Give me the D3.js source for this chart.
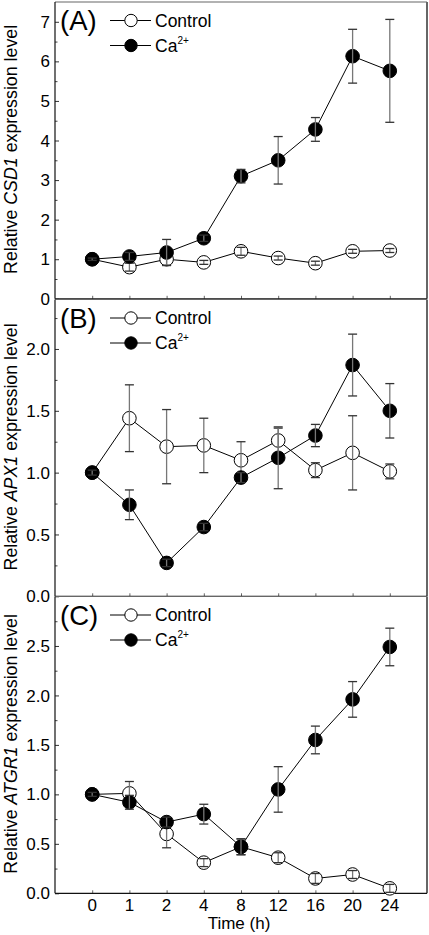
<!DOCTYPE html>
<html>
<head>
<meta charset="utf-8">
<script src="https://cdn.jsdelivr.net/npm/d3@7"></script>
<style>
  html, body { margin: 0; padding: 0; background: #fff; }
  svg { display: block; font-family: "Liberation Sans", Arial, sans-serif; }
</style>
</head>
<body>
<svg id="chart" width="429" height="935"></svg>
<script>
// ---- data ----
const times = ["0", "1", "2", "4", "8", "12", "16", "20", "24"];

const csd1Control    = [1.00, 0.80, 1.00, 0.92, 1.20, 1.03, 0.90, 1.20, 1.22];
const csd1ControlErr = [0.03, 0.10, 0.15, 0.05, 0.10, 0.05, 0.05, 0.05, 0.05];
const csd1Ca         = [1.00, 1.07, 1.17, 1.53, 3.10, 3.50, 4.28, 6.13, 5.76];
const csd1CaErr      = [0.03, 0.10, 0.33, 0.08, 0.17, 0.60, 0.30, 0.68, 1.30];

const apx1Control    = [1.00, 1.44, 1.21, 1.22, 1.10, 1.26, 1.02, 1.16, 1.01];
const apx1ControlErr = [0.02, 0.27, 0.30, 0.22, 0.15, 0.10, 0.06, 0.30, 0.06];
const apx1Ca         = [1.00, 0.74, 0.27, 0.56, 0.96, 1.12, 1.30, 1.87, 1.50];
const apx1CaErr      = [0.02, 0.12, 0.03, 0.03, 0.04, 0.25, 0.09, 0.25, 0.22];

const atgr1Control    = [1.00, 1.01, 0.60, 0.31, 0.47, 0.36, 0.15, 0.19, 0.05];
const atgr1ControlErr = [0.02, 0.12, 0.14, 0.04, 0.08, 0.05, 0.05, 0.04, 0.04];
const atgr1Ca         = [1.00, 0.92, 0.72, 0.80, 0.47, 1.05, 1.55, 1.96, 2.49];
const atgr1CaErr      = [0.02, 0.07, 0.05, 0.10, 0.08, 0.23, 0.14, 0.18, 0.19];

const panelLetters = ["(A)", "(B)", "(C)"];
const geneNames    = ["CSD1", "APX1", "ATGR1"];
const yMax         = [7.5, 2.4, 3.0];
const yMajorTicks  = [[0,1,2,3,4,5,6,7], [0,0.5,1.0,1.5,2.0], [0,0.5,1.0,1.5,2.0,2.5]];
const yMinorTicks  = [[0.5,1.5,2.5,3.5,4.5,5.5,6.5], [0.25,0.75,1.25,1.75,2.25], [0.25,0.75,1.25,1.75,2.25,2.75]];
const yTickFormat  = ["d", ".1f", ".1f"];
const legendLabels = ["Control", "Ca"];
const xAxisTitle   = "Time (h)";

const panels = [
  { ctrl: csd1Control,  ctrlErr: csd1ControlErr,  ca: csd1Ca,  caErr: csd1CaErr },
  { ctrl: apx1Control,  ctrlErr: apx1ControlErr,  ca: apx1Ca,  caErr: apx1CaErr },
  { ctrl: atgr1Control, ctrlErr: atgr1ControlErr, ca: atgr1Ca, caErr: atgr1CaErr }
];

// ---- layout ----
const svg = d3.select("#chart");
const left = 55, right = 427;
const panelTops = [2, 299.5, 596.5];
const panelH = 296.8;

const x = d3.scalePoint().domain(times).range([left, right]).padding(1);

panels.forEach((p, i) => {
  const top = panelTops[i], bottom = top + panelH;
  const y = d3.scaleLinear().domain([0, yMax[i]]).range([bottom, top]);
  const g = svg.append("g");

  // frame: top & right border (grey)
  g.append("line").attr("x1", left).attr("x2", right).attr("y1", top).attr("y2", top)
    .attr("stroke", "#666").attr("stroke-width", 1.2);
  g.append("line").attr("x1", right).attr("x2", right).attr("y1", top).attr("y2", bottom)
    .attr("stroke", "#666").attr("stroke-width", 2);

  // y axis (inward ticks)
  const yAxis = d3.axisRight(y).tickValues(yMajorTicks[i]).tickSize(4).tickFormat("");
  const ya = g.append("g").attr("transform", `translate(${left},0)`).call(yAxis);
  ya.select(".domain").remove();
  ya.selectAll(".tick line").attr("stroke", "#333");
  const yMinor = d3.axisRight(y).tickValues(yMinorTicks[i].filter(v => v < yMax[i])).tickSize(2.5).tickFormat("");
  const ym = g.append("g").attr("transform", `translate(${left},0)`).call(yMinor);
  ym.select(".domain").remove();
  ym.selectAll(".tick line").attr("stroke", "#444");
  // tick labels
  const fmt = d3.format(yTickFormat[i]);
  g.selectAll(".ylab").data(yMajorTicks[i]).enter().append("text")
    .attr("x", left - 5).attr("y", d => y(d)).attr("dy", "0.36em")
    .attr("text-anchor", "end").attr("font-size", 17).attr("fill", "#000")
    .text(d => fmt(d));

  // left axis line
  g.append("line").attr("x1", left).attr("x2", left).attr("y1", top).attr("y2", bottom)
    .attr("stroke", "#111").attr("stroke-width", 1.2);

  // x axis (inward ticks)
  const xAxis = d3.axisTop(x).tickSize(3).tickFormat("");
  const xa = g.append("g").attr("transform", `translate(0,${bottom})`).call(xAxis);
  xa.select(".domain").remove();
  xa.selectAll(".tick line").attr("stroke", "#666");
  g.append("line").attr("x1", left).attr("x2", right).attr("y1", bottom).attr("y2", bottom)
    .attr("stroke", "#111").attr("stroke-width", 1.2);

  if (i === 2) {
    g.selectAll(".xlab").data(times).enter().append("text")
      .attr("x", d => x(d)).attr("y", bottom + 18)
      .attr("text-anchor", "middle").attr("font-size", 17).text(d => d);
    g.append("text").attr("x", (left + right) / 2 - 2).attr("y", bottom + 36)
      .attr("text-anchor", "middle").attr("font-size", 17).text(xAxisTitle);
  }

  // y axis title
  const yt = g.append("text")
    .attr("transform", `translate(17,${(top + bottom) / 2 - 1}) rotate(-90)`)
    .attr("text-anchor", "middle").attr("font-size", 17.8);
  yt.append("tspan").text("Relative ");
  yt.append("tspan").attr("font-style", "italic").text(geneNames[i]);
  yt.append("tspan").text(" expression level");

  // series
  const line = d3.line().x((d, k) => x(times[k])).y(d => y(d));
  const drawSeries = (vals, errs, fill) => {
    g.append("path").datum(vals).attr("d", line)
      .attr("fill", "none").attr("stroke", "#000").attr("stroke-width", 1);
    g.selectAll(null).data(vals).enter().append("circle")
      .attr("cx", (d, k) => x(times[k])).attr("cy", d => y(d)).attr("r", 6.8)
      .attr("fill", fill).attr("stroke", "#000").attr("stroke-width", 1);
    const eb = g.selectAll(null).data(vals.map((v, k) => ({ v, e: errs[k], t: times[k] })))
      .enter().append("g");
    eb.append("line").attr("x1", d => x(d.t)).attr("x2", d => x(d.t))
      .attr("y1", d => y(d.v + d.e)).attr("y2", d => y(d.v - d.e))
      .attr("stroke", "#777").attr("stroke-width", 1.3);
    eb.append("line").attr("x1", d => x(d.t) - 4.5).attr("x2", d => x(d.t) + 4.5)
      .attr("y1", d => y(d.v + d.e)).attr("y2", d => y(d.v + d.e))
      .attr("stroke", "#333").attr("stroke-width", 1.3);
    eb.append("line").attr("x1", d => x(d.t) - 4.5).attr("x2", d => x(d.t) + 4.5)
      .attr("y1", d => y(d.v - d.e)).attr("y2", d => y(d.v - d.e))
      .attr("stroke", "#333").attr("stroke-width", 1.3);
  };
  drawSeries(p.ctrl, p.ctrlErr, "#fff");
  drawSeries(p.ca, p.caErr, "#000");

  // panel letter
  g.append("text").attr("x", 60).attr("y", top + 28).attr("font-size", 27.5).text(panelLetters[i]);

  // legend
  const legRows = [{ fill: "#fff", dy: 18.5 }, { fill: "#000", dy: 43.5 }];
  legRows.forEach((r, k) => {
    const ly = top + r.dy;
    g.append("line").attr("x1", 110).attr("x2", 151).attr("y1", ly).attr("y2", ly)
      .attr("stroke", "#000").attr("stroke-width", 1);
    g.append("circle").attr("cx", 131).attr("cy", ly).attr("r", 6.2)
      .attr("fill", r.fill).attr("stroke", "#000").attr("stroke-width", 1);
    const t = g.append("text").attr("x", 155).attr("y", ly + 6).attr("font-size", 17.5);
    t.append("tspan").text(legendLabels[k]);
    if (k === 1) t.append("tspan").attr("font-size", 10).attr("dy", -8).text("2+");
  });
});
</script>
</body>
</html>
